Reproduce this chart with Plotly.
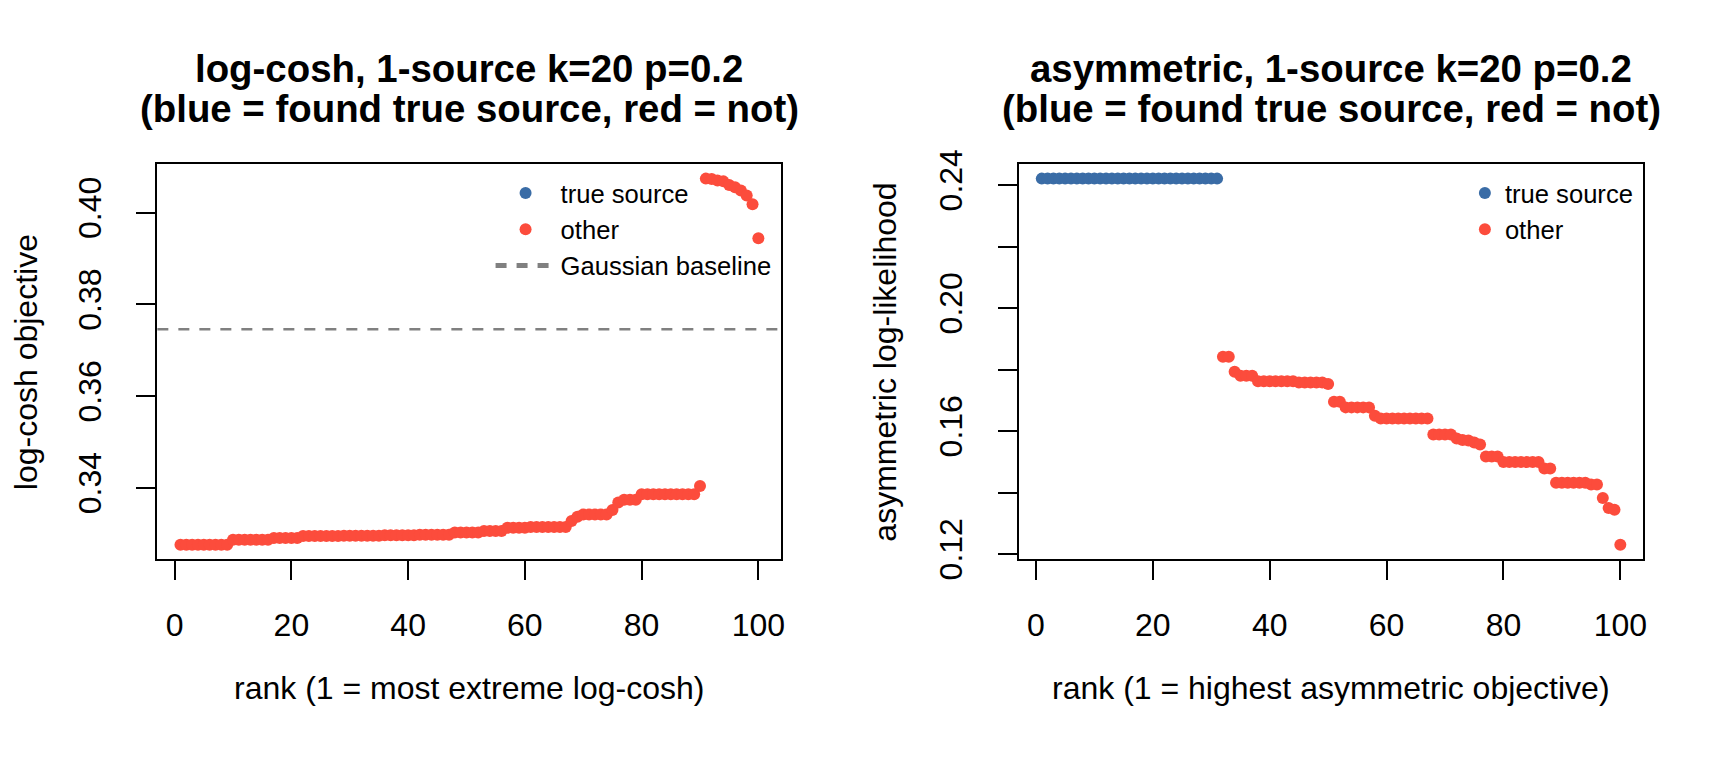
import plotly.graph_objects as go

# the page body keeps its default 8px margin, so the figure is drawn
# 8px in from the window corner; size it so it fills 1728x768 exactly
OFF = 8
FW, FH = 1728 - 2 * OFF, 768 - 2 * OFF

# values, ranks 1..100
ranks = list(range(1, 101))

logcosh_vals = [
    0.3276, 0.3276, 0.3276, 0.3276, 0.3276, 0.3276, 0.3276, 0.3276, 0.3276,
    0.3287, 0.3287, 0.3287, 0.3287, 0.3287, 0.3287, 0.3287,
    0.3291, 0.3291, 0.3291, 0.3291, 0.3291,
    0.3295, 0.3295, 0.3295, 0.3295, 0.3295, 0.3295, 0.3295,
    0.3296, 0.3296, 0.3296, 0.3296, 0.3296, 0.3296, 0.3296,
    0.3297, 0.3297, 0.3297, 0.3297, 0.3297, 0.3297,
    0.3298, 0.3298, 0.3298, 0.3298, 0.3298, 0.3298,
    0.3303, 0.3303, 0.3303, 0.3303, 0.3303,
    0.3306, 0.3306, 0.3306, 0.3306,
    0.3313, 0.3313, 0.3313, 0.3313,
    0.3315, 0.3315, 0.3315, 0.3315, 0.3315, 0.3315, 0.3315,
    0.3328, 0.3337,
    0.3342, 0.3342, 0.3342, 0.3342, 0.3342,
    0.3352, 0.3368, 0.3374, 0.3374, 0.3374,
    0.3386, 0.3386, 0.3386, 0.3386, 0.3386, 0.3386, 0.3386, 0.3386, 0.3386, 0.3386,
    0.3404,
    0.4074, 0.4073, 0.4070, 0.4068, 0.4060, 0.4055, 0.4048, 0.4037, 0.4018, 0.3944,
]
logcosh_found = 0          # leading ranks that hit the true source
gauss_baseline = 0.3746

asym_vals = [
    0.2421, 0.2421, 0.2421, 0.2421, 0.2421, 0.2421, 0.2421, 0.2421, 0.2421, 0.2421,
    0.2421, 0.2421, 0.2421, 0.2421, 0.2421, 0.2421, 0.2421, 0.2421, 0.2421, 0.2421,
    0.2421, 0.2421, 0.2421, 0.2421, 0.2421, 0.2421, 0.2421, 0.2421, 0.2421, 0.2421,
    0.2421,
    0.1842, 0.1842, 0.1793, 0.1780, 0.1780, 0.1780,
    0.1762, 0.1762, 0.1762, 0.1762, 0.1762, 0.1762, 0.1762,
    0.1758, 0.1758, 0.1758, 0.1758, 0.1758, 0.1753,
    0.1695, 0.1695,
    0.1677, 0.1677, 0.1677, 0.1677, 0.1677,
    0.1650,
    0.1641, 0.1641, 0.1641, 0.1641, 0.1641, 0.1641, 0.1641, 0.1641, 0.1641,
    0.1589, 0.1589, 0.1589, 0.1589,
    0.1576, 0.1571, 0.1569, 0.1563, 0.1556,
    0.1517, 0.1517, 0.1517,
    0.1499, 0.1499, 0.1499, 0.1499, 0.1499, 0.1499, 0.1499,
    0.1478, 0.1478,
    0.1432, 0.1432, 0.1432, 0.1432, 0.1432, 0.1432, 0.1426, 0.1426,
    0.1382, 0.1350, 0.1344, 0.1230,
]
asym_found = 31

x_ticks = [0, 20, 40, 60, 80, 100]
lc_ticks = [0.34, 0.36, 0.38, 0.40]
lc_ticktext = ['0.34', '0.36', '0.38', '0.40']
as_ticks = [0.12, 0.14, 0.16, 0.18, 0.20, 0.22, 0.24]
as_ticktext = ['0.12', '', '0.16', '', '0.20', '', '0.24']

BLUE = '#3A6CA6'
RED = '#FC4C3C'
FONT = 'Liberation Sans'


def r_range(v):
    # R's default 4% axis padding
    lo, hi = min(v), max(v)
    pad = 0.04 * (hi - lo)
    return [lo - pad, hi + pad]


def px_x(p):
    return (p - OFF) / FW


def px_y(p):
    return 1 - (p - OFF) / FH


def as_points(v, n):
    # no true-source hits -> a single blank point keeps the legend entry
    return (ranks[:n], v[:n]) if n else ([None], [None])


fig = go.Figure()

panels = [
    ('x', 'y', 'legend', logcosh_vals, logcosh_found),
    ('x2', 'y2', 'legend2', asym_vals, asym_found),
]
for xa, ya, lg, vals, nf in panels:
    bx, by = as_points(vals, nf)
    fig.add_trace(go.Scatter(
        x=bx, y=by, mode='markers', name='true source',
        marker=dict(color=BLUE, size=12, line_width=0),
        xaxis=xa, yaxis=ya, legend=lg,
    ))
    fig.add_trace(go.Scatter(
        x=ranks[nf:], y=vals[nf:], mode='markers', name='other',
        marker=dict(color=RED, size=12, line_width=0),
        xaxis=xa, yaxis=ya, legend=lg,
    ))

fig.add_hline(
    y=gauss_baseline, line=dict(color='#808080', width=2.5, dash='11px,10px'),
    showlegend=True, name='Gaussian baseline', legend='legend',
)

axis_common = dict(
    showline=True, mirror=True, linecolor='black', linewidth=2,
    ticks='outside', ticklen=19, tickwidth=2, tickcolor='black',
    showgrid=False, zeroline=False,
    tickfont=dict(family=FONT, size=32, color='black'),
)

xdom1 = [px_x(157.7), px_x(783.3)]
xdom2 = [px_x(1021), px_x(1647.3)]
ydom = [px_y(571.7), px_y(156.9)]

legend_common = dict(
    xanchor='left', yanchor='top', bgcolor='rgba(0,0,0,0)',
    font=dict(family=FONT, size=25.6, color='black'), itemsizing='constant',
)

fig.update_layout(
    width=FW, height=FH,
    margin=dict(l=0, r=0, t=0, b=0),
    paper_bgcolor='white', plot_bgcolor='white',
    font=dict(family=FONT, size=32, color='black'),
    xaxis=dict(domain=xdom1, anchor='y', range=r_range(ranks), tickvals=x_ticks,
               ticklabelstandoff=17, **axis_common),
    yaxis=dict(domain=ydom, anchor='x', range=r_range(logcosh_vals), tickvals=lc_ticks,
               ticktext=lc_ticktext, tickangle=-90, ticklabelstandoff=23, **axis_common),
    xaxis2=dict(domain=xdom2, anchor='y2', range=r_range(ranks), tickvals=x_ticks,
                ticklabelstandoff=17, **axis_common),
    yaxis2=dict(domain=ydom, anchor='x2', range=r_range(asym_vals), tickvals=as_ticks,
                ticktext=as_ticktext, tickangle=-90, ticklabelstandoff=23, **axis_common),
    # the left key also holds a line sample, so its symbol column is wider
    legend=dict(x=px_x(491.7), y=px_y(163), itemwidth=60, **legend_common),
    legend2=dict(x=px_x(1468.3), y=px_y(163), itemwidth=30, **legend_common),
    showlegend=True,
)

titles = [
    (xdom1, 'log-cosh, 1-source k=20 p=0.2', 'rank (1 = most extreme log-cosh)',
     'log-cosh objective', 25.5),
    (xdom2, 'asymmetric, 1-source k=20 p=0.2', 'rank (1 = highest asymmetric objective)',
     'asymmetric log-likelihood', 887),
]
for dom, main, xlab, ylab, ylab_x in titles:
    cx = (dom[0] + dom[1]) / 2
    for txt, yy in [(main, 56.7), ('(blue = found true source, red = not)', 98.7)]:
        fig.add_annotation(text='<b>' + txt + '</b>', x=cx, y=px_y(yy),
                           xref='paper', yref='paper', showarrow=False,
                           font=dict(family=FONT, size=38.4),
                           xanchor='center', yanchor='middle')
    fig.add_annotation(text=xlab, x=cx, y=px_y(707), xref='paper', yref='paper',
                       showarrow=False, font=dict(family=FONT, size=32),
                       xanchor='center', yanchor='middle')
    fig.add_annotation(text=ylab, x=px_x(ylab_x), y=(ydom[0] + ydom[1]) / 2,
                       xref='paper', yref='paper', showarrow=False, textangle=-90,
                       font=dict(family=FONT, size=32), xanchor='center', yanchor='middle')

fig.write_html('out.html')
